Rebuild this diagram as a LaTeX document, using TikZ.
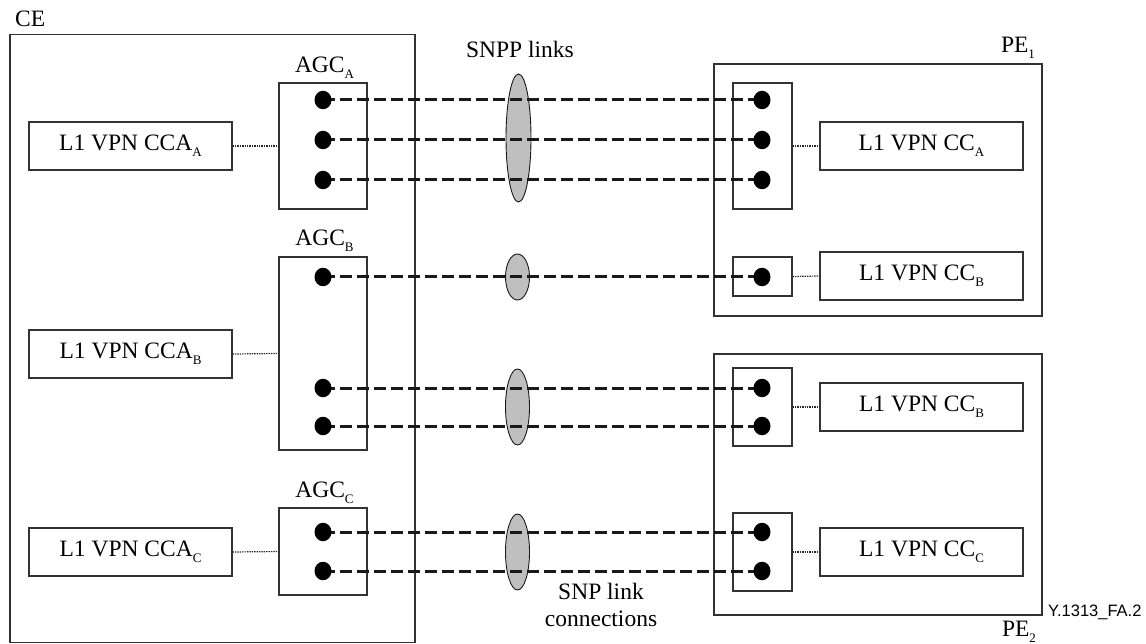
\documentclass[tikz,border=0pt]{standalone}
\usepackage{fontspec}
\setmainfont{Liberation Serif}
\newfontfamily\arialf{Liberation Sans}
\usetikzlibrary{shapes.geometric}
\newcommand\lsub[1]{\raisebox{-6pt}{\fontsize{13}{13}\selectfont #1}}
\begin{document}
\begin{tikzpicture}[x=1pt,y=-1pt,
  frame/.style={draw=black!80, line width=1.1pt, rectangle, inner sep=0pt},
  txtbox/.style={frame, minimum width=203, minimum height=48, font=\fontsize{23.5}{26}\selectfont},
  lbl/.style={inner sep=0pt, font=\fontsize{23.5}{26}\selectfont, anchor=base},
  port/.style={ellipse, fill=black, draw=none, minimum width=17, minimum height=18.5, inner sep=0pt},
  bundle/.style={ellipse, fill=black!25, draw=black!90, line width=0.9pt, minimum width=25, inner sep=0pt},
  link/.style={line width=3pt, black!90, dash pattern=on 12pt off 5pt},
  attach/.style={line width=1.2pt, black!85, dash pattern=on 1.4pt off 1pt}
]
\useasboundingbox (0,0) rectangle (1146,644);

% outer frames
\node[frame, minimum width=405, minimum height=608] (ce) at (212.5,338.5) {};
\node[frame, minimum width=328, minimum height=252] (pe1) at (878,190) {};
\node[frame, minimum width=328, minimum height=261] (pe2) at (878,484.5) {};

% labels
\node[lbl, anchor=base west] (ceL) at (15,27) {CE};
\node[lbl] (agcAL) at (324.5,73) {AGC\lsub{A}};
\node[lbl] (agcBL) at (324.5,246) {AGC\lsub{B}};
\node[lbl] (agcCL) at (324.5,497) {AGC\lsub{C}};
\node[lbl] (snppL) at (520,58) {SNPP links};
\node[lbl] (pe1L) at (1018,53) {PE\lsub{1}};
\node[lbl] (pe2L) at (1019,636) {PE\lsub{2}};
\node[lbl, align=center] (snpL) at (601,626) {SNP link\\[1pt]connections};
\node[inner sep=0pt, anchor=base west, font=\arialf\fontsize{16.5}{17}\selectfont] (figL) at (1048,616) {Y.1313\_FA.2};

% CE side
\node[txtbox] (ccaA) at (130.5,146) {L1 VPN CCA\lsub{A}};
\node[txtbox] (ccaB) at (130.5,354) {L1 VPN CCA\lsub{B}};
\node[txtbox] (ccaC) at (130.5,552) {L1 VPN CCA\lsub{C}};
\node[frame, minimum width=88, minimum height=126] (agcA) at (323,146) {};
\node[frame, minimum width=88, minimum height=193] (agcB) at (323,353.5) {};
\node[frame, minimum width=88, minimum height=87] (agcC) at (323,551.5) {};

% PE side
\node[frame, minimum width=59, minimum height=126] (p1A) at (762.5,146) {};
\node[frame, minimum width=59, minimum height=39] (p1B) at (762.5,276.5) {};
\node[frame, minimum width=59, minimum height=78] (p2B) at (762.5,407) {};
\node[frame, minimum width=59, minimum height=78] (p2C) at (762.5,552) {};
\node[txtbox] (ccA) at (921.5,146) {L1 VPN CC\lsub{A}};
\node[txtbox] (ccB1) at (921.5,276) {L1 VPN CC\lsub{B}};
\node[txtbox] (ccB2) at (921.5,407) {L1 VPN CC\lsub{B}};
\node[txtbox] (ccC) at (921.5,552) {L1 VPN CC\lsub{C}};

% attachment (dotted) lines
\draw[attach] (ccaA.east) -- (agcA.west);
\draw[attach] (ccaB.east) -- (agcB.west);
\draw[attach] (ccaC.east) -- (agcC.west);
\draw[attach] (p1A.east) -- (ccA.west);
\draw[attach] (p1B.east) -- (ccB1.west);
\draw[attach] (p2B.east) -- (ccB2.west);
\draw[attach] (p2C.east) -- (ccC.west);

% SNPP bundles
\node[bundle, minimum height=128] (eA) at (518.5,138) {};
\node[bundle, minimum height=46, minimum width=24] (eB1) at (517.5,277) {};
\node[bundle, minimum height=76, minimum width=24] (eB2) at (517.5,407) {};
\node[bundle, minimum height=76, minimum width=24] (eC) at (517.5,552) {};

% ports and link connections
\foreach \n/\yy in {A1/100,A2/140,A3/180,B1/277,B2/388,B3/426,C1/532,C2/571}{
  \coordinate (l\n) at (323,\yy);
  \coordinate (r\n) at (762,\yy);
  \draw[link] (l\n) -- (r\n);
  \node[port] (pl\n) at (l\n) {};
  \node[port] (pr\n) at (r\n) {};
}
\end{tikzpicture}
\end{document}
